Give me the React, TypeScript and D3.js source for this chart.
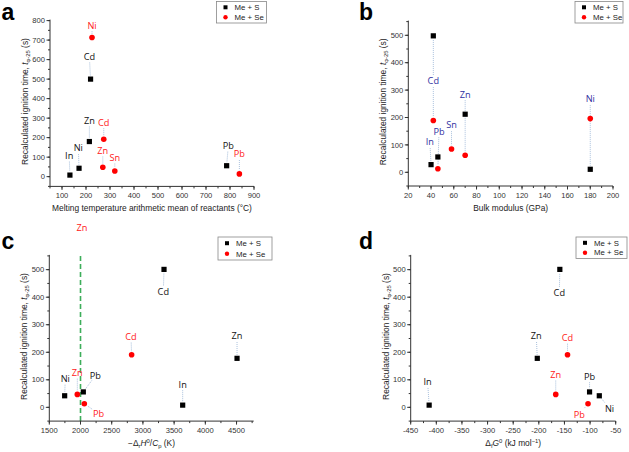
import * as d3 from "d3";

// ---- data ----
// series order for Me + S / Me + Se
const metalsS = ["In", "Ni", "Cd", "Zn", "Pb"];
const metalsSe = ["Ni", "Cd", "Zn", "Sn", "Pb"];

// panel a: melting temperature arithmetic mean of reactants (°C)
const aXS = [133, 171, 219, 214, 786];
const aYS = [8, 43, 500, 180, 56];
const aXSe = [225, 274, 270, 320, 839];
const aYSe = [713, 192, 48, 29, 14];

// panel b: bulk modulus (GPa)
const bXS = [40, 180, 42, 70, 46];
const bYS = [28, 11, 498, 212, 56];
const bXSe = [180, 42, 70, 58, 46];
const bYSe = [196, 189, 62, 85, 13];

// panel c: -ΔrH0/Cp (K)
const cXS = [3637, 1746, 3338, 4508, 2045];
const cYS = [8, 42, 501, 178, 56];
const cXSe = [1949, 2819, 1949, 0, 2061];
const cYSe = [47, 191, 47, 0, 13];
const cGuide = 2000;

// panel d: ΔfG0 (kJ/mol)
const dXS = [-414, -82, -159, -203, -101];
const dYS = [8, 42, 501, 178, 56];
const dXSe = [-167, -144, -167, 0, -104];
const dYSe = [47, 191, 47, 0, 13];

// point labels: [text, colour key, label x, label y, targets "S:i" / "Se:i"]
type Ann = [string, string, number, number, string[]];
const annA: Ann[] = [
  ["In", "S", 130, 108, ["S:0"]],
  ["Ni", "S", 168, 146, ["S:1"]],
  ["Cd", "S", 214, 616, ["S:2"]],
  ["Zn", "S", 214, 288, ["S:3"]],
  ["Pb", "S", 793, 159, ["S:4"]],
  ["Ni", "Se", 225, 776, ["Se:0"]],
  ["Cd", "Se", 274, 279, ["Se:1"]],
  ["Zn", "Se", 270, 134, ["Se:2"]],
  ["Sn", "Se", 320, 98, ["Se:3"]],
  ["Pb", "Se", 839, 116, ["Se:4"]],
];
const annB: Ann[] = [
  ["Cd", "B", 42, 333, ["S:2", "Se:1"]],
  ["In", "B", 39, 110, ["S:0"]],
  ["Pb", "B", 47, 150, ["Se:4"]],
  ["Sn", "B", 58, 172, ["Se:3"]],
  ["Zn", "B", 70, 285, ["Se:2"]],
  ["Ni", "B", 180, 267, ["S:1"]],
];
const annC: Ann[] = [
  ["Ni", "S", 1756, 104, ["S:1"]],
  ["Zn", "Se", 1949, 126, ["Se:0"]],
  ["Pb", "S", 2237, 115, ["S:4"]],
  ["Pb", "Se", 2291, -23, ["Se:4"]],
  ["Cd", "S", 3327, 421, ["S:2"]],
  ["Cd", "Se", 2809, 257, ["Se:1"]],
  ["In", "S", 3637, 84, ["S:0"]],
  ["Zn", "S", 4508, 259, ["S:3"]],
  ["Zn", "Se", 2024, 651, []],
];
const annD: Ann[] = [
  ["In", "S", -417, 92, ["S:0"]],
  ["Zn", "S", -205, 259, ["S:3"]],
  ["Cd", "S", -160, 416, ["S:2"]],
  ["Cd", "Se", -144, 253, ["Se:1"]],
  ["Zn", "Se", -167, 119, ["Se:0"]],
  ["Pb", "S", -101, 113, ["S:4"]],
  ["Ni", "S", -62, -5, ["S:1"]],
  ["Pb", "Se", -121, -25, ["Se:4"]],
];

const labelColor: Record<string, string> = { S: "#111", Se: "#ff2020", B: "#2f2fa0" };
const FONT = "'Liberation Sans', Arial, sans-serif";
const LFONT = "'Open Sans', sans-serif";

type PanelCfg = {
  letter: string;
  ox: number; // letter x
  oy: number; // letter baseline
  xDomain: [number, number];
  yDomain: [number, number];
  range: [number, number, number, number]; // left, right, bottom, top
  xMajor: number[];
  xMinor: number[];
  yMajor: number[];
  yMinor: number[];
  xs: number[];
  ys: number[];
  xse: number[];
  yse: number[];
  skipSe?: number[];
  ann: Ann[];
  legend: [number, number, number, number];
  xTitle: React.ReactNode;
  guide?: number;
};

const panels: PanelCfg[] = [
  {
    letter: "a", ox: 1.5, oy: 19.5,
    xDomain: [50, 900], yDomain: [-50, 800], range: [50, 254, 186.4, 20.6],
    xMajor: d3.range(100, 901, 100), xMinor: d3.range(50, 901, 50),
    yMajor: d3.range(0, 801, 100), yMinor: d3.range(-50, 801, 50),
    xs: aXS, ys: aYS, xse: aXSe, yse: aYSe, ann: annA,
    legend: [216.5, 1.5, 50, 21.5],
    xTitle: "Melting temperature arithmetic mean of reactants (°C)",
  },
  {
    letter: "b", ox: 359, oy: 19.5,
    xDomain: [20, 200], yDomain: [-50, 550], range: [408.3, 613, 186, 21.6],
    xMajor: d3.range(20, 201, 20), xMinor: d3.range(20, 201, 10),
    yMajor: d3.range(0, 501, 100), yMinor: d3.range(-50, 551, 50),
    xs: bXS, ys: bYS, xse: bXSe, yse: bYSe, ann: annB,
    legend: [575, 1.5, 48, 21.5],
    xTitle: "Bulk modulus (GPa)",
  },
  {
    letter: "c", ox: 1.5, oy: 248.7,
    xDomain: [1500, 4775], yDomain: [-50, 550], range: [49.3, 253.7, 421.1, 255.9],
    xMajor: d3.range(1500, 4501, 500), xMinor: d3.range(1500, 4776, 250),
    yMajor: d3.range(0, 501, 100), yMinor: d3.range(-50, 551, 50),
    xs: cXS, ys: cYS, xse: cXSe, yse: cYSe, skipSe: [2, 3], ann: annC,
    legend: [218, 237, 54, 23],
    guide: cGuide,
    xTitle: (
      <>
        <tspan>−Δ</tspan>
        <tspan dy={2} fontSize="70%">r</tspan>
        <tspan dy={-2} fontStyle="italic">H</tspan>
        <tspan dy={-3} fontSize="70%">0</tspan>
        <tspan dy={3}>/</tspan>
        <tspan fontStyle="italic">C</tspan>
        <tspan dy={2} fontSize="70%">p</tspan>
        <tspan dy={-2}> (K)</tspan>
      </>
    ),
  },
  {
    letter: "d", ox: 359, oy: 248.7,
    xDomain: [-450, -50], yDomain: [-50, 550], range: [410.7, 615.7, 421.1, 255.9],
    xMajor: d3.range(-450, -49, 50), xMinor: d3.range(-450, -49, 25),
    yMajor: d3.range(0, 501, 100), yMinor: d3.range(-50, 551, 50),
    xs: dXS, ys: dYS, xse: dXSe, yse: dYSe, skipSe: [2, 3], ann: annD,
    legend: [576, 237, 51, 21.5],
    xTitle: (
      <>
        <tspan>Δ</tspan>
        <tspan dy={2} fontSize="70%">f</tspan>
        <tspan dy={-2} fontStyle="italic">G</tspan>
        <tspan dy={-3} fontSize="70%">0</tspan>
        <tspan dy={3}> (kJ mol</tspan>
        <tspan dy={-3} fontSize="70%">−1</tspan>
        <tspan dy={3}>)</tspan>
      </>
    ),
  },
];

function Panel({ cfg }: { cfg: PanelCfg }) {
  const [left, right, bottom, top] = cfg.range;
  const x = d3.scaleLinear().domain(cfg.xDomain).range([left, right]);
  const y = d3.scaleLinear().domain(cfg.yDomain).range([bottom, top]);
  const ink = "#333";
  const skip = cfg.skipSe ?? [];

  const ptS = cfg.xs.map((v, i) => [x(v), y(cfg.ys[i])]);
  const ptSe = cfg.xse.map((v, i) => [x(v), y(cfg.yse[i])]);

  const leaders: { x1: number; y1: number; x2: number; y2: number }[] = [];
  cfg.ann.forEach(([, , lx, ly, targets]) => {
    const cx = x(lx);
    const cy = y(ly);
    targets.forEach((t) => {
      const [s, idx] = t.split(":");
      const [px, py] = (s === "S" ? ptS : ptSe)[+idx];
      const dx = px - cx;
      const dy = py - cy;
      const L = Math.hypot(dx, dy);
      if (L < 10) return;
      const ux = dx / L;
      const uy = dy / L;
      const s0 = Math.abs(uy) > 0.8 ? 6 : 8;
      leaders.push({ x1: cx + ux * s0, y1: cy + uy * s0, x2: px - ux * 3.5, y2: py - uy * 3.5 });
    });
  });

  const midY = (top + bottom) / 2;
  const midX = (left + right) / 2;
  const [lgx, lgy, lgw, lgh] = cfg.legend;

  return (
    <g>
      <text x={cfg.ox} y={cfg.oy} fontFamily={FONT} fontWeight="bold" fontSize={23} fill="#000">
        {cfg.letter}
      </text>

      {cfg.guide !== undefined && (
        <line x1={x(cfg.guide)} x2={x(cfg.guide)} y1={top} y2={bottom}
          stroke="#3dae5a" strokeWidth={1.6} strokeDasharray="5,3" />
      )}

      {/* leader lines */}
      {leaders.map((l, i) => (
        <line key={i} {...l} stroke="#a9c0dc" strokeWidth={1} strokeDasharray="1,1" />
      ))}

      {/* axes */}
      <line x1={left} x2={left} y1={top - 1} y2={bottom} stroke={ink} strokeWidth={1} />
      <line x1={left} x2={right} y1={bottom} y2={bottom} stroke={ink} strokeWidth={1} />
      {cfg.xMinor.map((v) => (
        <line key={"xm" + v} x1={x(v)} x2={x(v)} y1={bottom} y2={bottom + 2} stroke={ink} />
      ))}
      {cfg.xMajor.map((v) => (
        <g key={"xM" + v}>
          <line x1={x(v)} x2={x(v)} y1={bottom} y2={bottom + 3.5} stroke={ink} />
          <text x={x(v)} y={bottom + 11.5} textAnchor="middle" fontFamily={FONT} fontSize={7.6} fill={ink}>
            {v}
          </text>
        </g>
      ))}
      {cfg.yMinor.map((v) => (
        <line key={"ym" + v} x1={left - 2} x2={left} y1={y(v)} y2={y(v)} stroke={ink} />
      ))}
      {cfg.yMajor.map((v) => (
        <g key={"yM" + v}>
          <line x1={left - 3.5} x2={left} y1={y(v)} y2={y(v)} stroke={ink} />
          <text x={left - 5} y={y(v)} dy="0.35em" textAnchor="end" fontFamily={FONT} fontSize={7.6} fill={ink}>
            {v}
          </text>
        </g>
      ))}

      {/* axis titles */}
      <text x={midX} y={bottom + 24.5} textAnchor="middle" fontFamily={FONT} fontSize={8.4} fill="#222">
        {cfg.xTitle}
      </text>
      <text transform={`translate(${left - 22},${midY - 2}) rotate(-90)`} textAnchor="middle"
        fontFamily={FONT} fontSize={8.4} fill="#222">
        <tspan>Recalculated ignition time, </tspan>
        <tspan fontStyle="italic">t</tspan>
        <tspan dy={2} fontSize="70%">φ-25</tspan>
        <tspan dy={-2}> (s)</tspan>
      </text>

      {/* points */}
      {ptS.map(([px, py], i) => (
        <rect key={"s" + i} x={px - 2.6} y={py - 2.6} width={5.2} height={5.2} fill="#000" />
      ))}
      {ptSe.map(([px, py], i) =>
        skip.includes(i) ? null : <circle key={"e" + i} cx={px} cy={py} r={2.8} fill="#ff0000" />
      )}

      {/* point labels */}
      {cfg.ann.map(([t, c, lx, ly], i) => (
        <text key={"a" + i} x={x(lx)} y={y(ly)} dy="0.36em" textAnchor="middle"
          fontFamily={LFONT} fontSize={9.2} fill={labelColor[c]}>
          {t}
        </text>
      ))}

      {/* legend */}
      <rect x={lgx} y={lgy} width={lgw} height={lgh} fill="#fff" stroke="#888" strokeWidth={0.8} />
      <rect x={lgx + 7} y={lgy + lgh * 0.27 - 2} width={4} height={4} fill="#000" />
      <circle cx={lgx + 9} cy={lgy + lgh * 0.73} r={2.2} fill="#ff0000" />
      <text x={lgx + 18} y={lgy + lgh * 0.27} dy="0.35em" fontFamily={FONT} fontSize={7.8} fill="#222">
        {"Me + S"}
      </text>
      <text x={lgx + 18} y={lgy + lgh * 0.73} dy="0.35em" fontFamily={FONT} fontSize={7.8} fill="#222">
        {"Me + Se"}
      </text>
    </g>
  );
}

export default function App() {
  return (
    <svg width={629} height={452} viewBox="0 0 629 452"
      style={{ position: "absolute", left: 0, top: 0, background: "#fff", display: "block" }}>
      <rect width={629} height={452} fill="#fff" />
      {panels.map((p) => (
        <Panel key={p.letter} cfg={p} />
      ))}
    </svg>
  );
}
